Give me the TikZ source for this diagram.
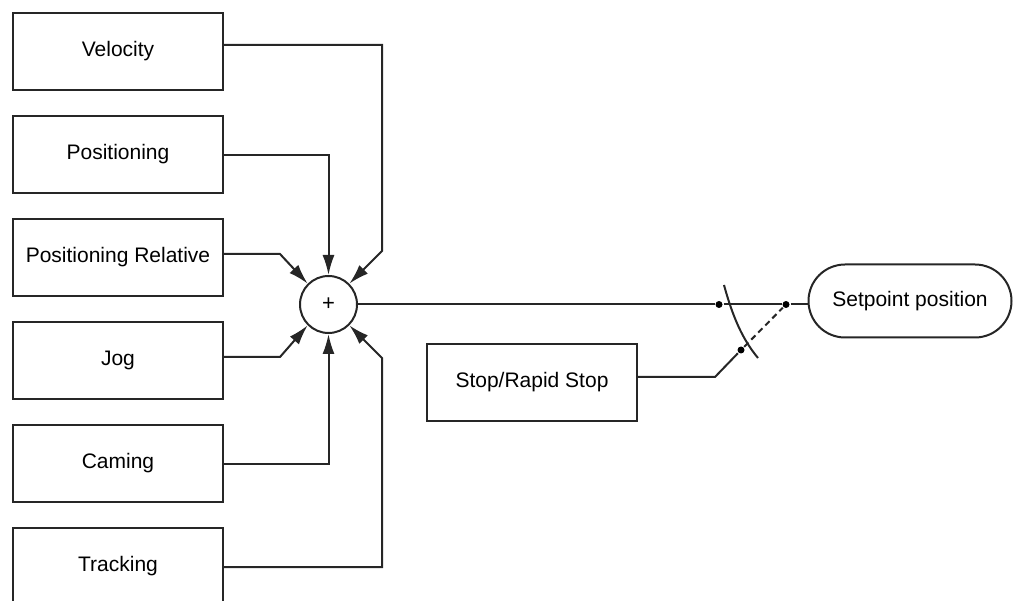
\documentclass[tikz,border=0pt]{standalone}
\usepackage{fontspec}
\setmainfont{Liberation Sans}
\usetikzlibrary{arrows.meta,shapes.misc}
\begin{document}
\begin{tikzpicture}[x=1pt,y=-1pt,
  line width=2pt,
  blk/.style={draw=black!85, line width=2pt, minimum width=210pt, minimum height=77pt, inner sep=0pt, font=\fontsize{21}{24}\selectfont},
  arr/.style={draw=black!85, line width=2pt, -{Latex[length=20pt,width=12pt]}},
  wire/.style={draw=black!85, line width=2pt},
  dot/.style={circle, fill=black, inner sep=0pt, minimum size=7pt}]
\useasboundingbox (0,0) rectangle (1018,601);
\clip (0,0) rectangle (1018,601);
\node[blk] (vel) at (118,51.5) {\raisebox{4pt}{Velocity}};
\node[blk] (pos) at (118,154.5) {\raisebox{4pt}{Positioning}};
\node[blk] (rel) at (118,257.5) {\raisebox{6pt}{Positioning Relative}};
\node[blk] (jog) at (118,360.5) {\raisebox{3pt}{Jog}};
\node[blk] (cam) at (118,463.5) {\raisebox{3pt}{Caming}};
\node[blk] (trk) at (118,566.5) {\raisebox{5pt}{Tracking}};
\node[circle, draw=black!85, line width=2pt, minimum size=57pt, inner sep=0pt, font=\fontsize{22}{24}\selectfont] (sum) at (328.5,304.5) {+};
\node[blk] (stop) at (532,382.5) {\raisebox{4pt}{Stop/Rapid Stop}};
\node[draw=black!85, line width=2pt, rounded rectangle, minimum width=203pt, minimum height=73pt, inner sep=0pt, font=\fontsize{21}{24}\selectfont] (sp) at (910,301) {\raisebox{3pt}{Setpoint position}};
% inputs
\coordinate (v1) at (223,45);
\coordinate (p1) at (223,155);
\coordinate (r1) at (223,254);
\coordinate (j1) at (223,357);
\coordinate (c1) at (223,464);
\coordinate (t1) at (223,567);
\draw[arr] (v1) -- (382,45) -- (382,251) -- (sum.45);
\draw[arr] (p1) -- (sum.north |- p1) -- (sum.north);
\draw[arr] (r1) -- (280,254) -- (sum.135);
\draw[arr] (j1) -- (280,357) -- (sum.-135);
\draw[arr] (c1) -- (sum.south |- c1) -- (sum.south);
\draw[arr] (t1) -- (382,567) -- (382,358) -- (sum.-45);
% output and switch
\node[dot] (d1) at (719,304.5) {};
\node[dot] (d2) at (786,304.5) {};
\node[dot] (d3) at (741,350) {};
\draw[wire] (sum.east) -- (d1) -- (d2) -- (d2 -| sp.west);
\draw[wire, dash pattern=on 6pt off 4pt] (d3) -- (d2);
\coordinate (s1) at (637,377);
\draw[wire] (s1) -- (715,377) -- (d3);
\draw[wire] (724,285) .. controls (733,318) and (743,340) .. (758,358);
\end{tikzpicture}
\end{document}
